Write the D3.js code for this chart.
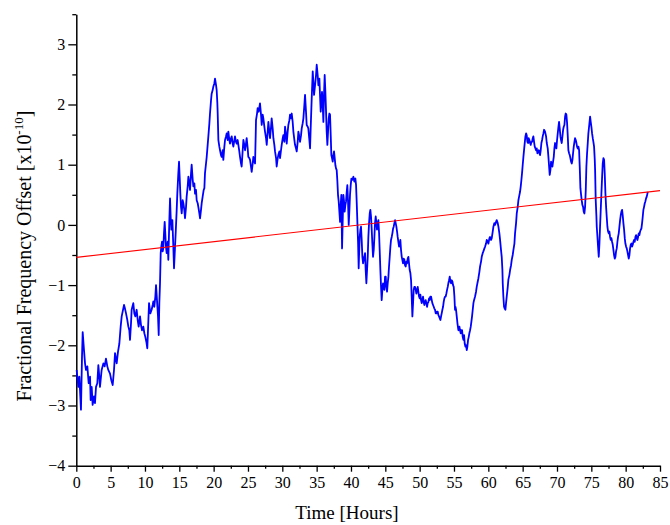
<!DOCTYPE html>
<html>
<head>
<meta charset="utf-8">
<script src="https://cdn.jsdelivr.net/npm/d3@7/dist/d3.min.js"></script>
<style>
  html, body { margin: 0; padding: 0; background: #fff; }
  svg { display: block; }
  .tick text { font-family: "Liberation Serif", "Times New Roman", serif; }
</style>
</head>
<body>
<div id="chart"></div>
<script>
// Measured fractional frequency offset (units of 1e-10) versus elapsed time in hours
const hours = [
  0.05,0.30,0.44,0.54,0.68,0.83,0.93,1.12,1.27,1.41,1.61,1.80,2.00,2.09,2.24,2.38,2.58,2.72,2.87,3.06,
  3.21,3.35,3.45,3.69,3.94,4.13,4.32,4.52,4.66,4.91,5.10,5.30,5.49,5.64,5.88,6.07,6.27,6.46,6.61,6.75,
  6.95,7.09,7.24,7.43,7.58,7.72,7.82,7.97,8.06,8.30,8.45,8.60,8.79,8.94,9.08,9.28,9.42,9.57,9.76,9.91,
  10.05,10.20,10.34,10.44,10.59,10.78,10.97,11.12,11.22,11.36,11.51,11.61,11.75,11.90,12.00,12.09,12.19,12.29,12.38,12.48,
  12.58,12.67,12.77,12.87,13.06,13.16,13.31,13.40,13.55,13.65,13.74,13.84,13.99,14.13,14.23,14.38,14.47,14.62,14.71,14.86,
  14.96,15.05,15.15,15.25,15.35,15.49,15.59,15.73,15.83,15.98,16.07,16.22,16.32,16.46,16.56,16.71,16.80,16.95,17.05,17.19,
  17.29,17.43,17.53,17.68,17.77,17.92,18.02,18.16,18.26,18.40,18.55,18.65,18.74,18.89,18.99,19.13,19.23,19.38,19.47,19.62,
  19.71,19.86,19.96,20.10,20.20,20.35,20.44,20.54,20.59,20.69,20.83,20.93,21.07,21.17,21.32,21.41,21.56,21.66,21.80,21.90,
  22.05,22.14,22.29,22.38,22.53,22.63,22.77,22.87,23.02,23.11,23.26,23.36,23.50,23.60,23.74,23.84,23.99,24.08,24.23,24.33,
  24.47,24.57,24.71,24.81,24.96,25.05,25.20,25.30,25.44,25.54,25.69,25.78,25.93,26.03,26.12,26.17,26.32,26.41,26.56,26.75,
  26.90,27.00,27.14,27.24,27.39,27.48,27.63,27.73,27.87,27.97,28.11,28.21,28.36,28.45,28.60,28.70,28.84,28.94,29.09,29.18,
  29.33,29.42,29.57,29.67,29.81,29.91,30.06,30.15,30.30,30.40,30.54,30.64,30.78,30.88,31.03,31.12,31.27,31.37,31.51,31.61,
  31.76,31.85,32.00,32.10,32.24,32.34,32.48,32.58,32.73,32.82,32.97,33.07,33.21,33.31,33.45,33.55,33.70,33.79,33.94,34.04,
  34.13,34.28,34.43,34.52,34.62,34.77,34.91,35.01,35.15,35.25,35.40,35.49,35.59,35.69,35.78,35.88,35.98,36.07,36.17,36.27,
  36.37,36.46,36.56,36.66,36.76,36.85,36.95,37.05,37.14,37.24,37.34,37.43,37.53,37.63,37.73,37.82,37.92,38.02,38.11,38.21,
  38.31,38.41,38.50,38.60,38.70,38.79,38.89,38.99,39.08,39.18,39.28,39.38,39.47,39.57,39.67,39.76,39.86,39.96,40.06,40.20,
  40.35,40.49,40.64,40.74,40.83,40.93,41.03,41.12,41.17,41.27,41.37,41.46,41.56,41.66,41.76,41.85,41.95,42.05,42.14,42.24,
  42.34,42.44,42.53,42.63,42.73,42.82,42.92,43.02,43.11,43.21,43.31,43.41,43.50,43.60,43.70,43.79,43.89,43.99,44.09,44.18,
  44.28,44.38,44.47,44.57,44.67,44.77,44.86,44.96,45.06,45.15,45.25,45.35,45.45,45.54,45.64,45.74,45.83,45.93,46.03,46.13,
  46.22,46.32,46.42,46.51,46.61,46.71,46.80,46.90,47.00,47.10,47.19,47.29,47.39,47.48,47.58,47.68,47.78,47.87,47.97,48.07,
  48.16,48.26,48.36,48.45,48.55,48.65,48.75,48.84,48.94,49.04,49.13,49.23,49.33,49.43,49.52,49.62,49.72,49.81,49.91,50.01,
  50.11,50.20,50.30,50.40,50.49,50.59,50.69,50.78,50.88,50.98,51.08,51.17,51.27,51.37,51.46,51.56,51.66,51.76,51.85,51.95,
  52.05,52.14,52.24,52.34,52.44,52.53,52.63,52.73,52.82,52.92,53.02,53.12,53.21,53.31,53.41,53.50,53.60,53.70,53.79,53.89,
  53.99,54.09,54.18,54.28,54.38,54.47,54.57,54.67,54.77,54.86,54.96,55.06,55.15,55.21,55.30,55.40,55.50,55.64,55.79,55.88,
  55.98,56.08,56.18,56.27,56.37,56.47,56.56,56.66,56.76,56.86,56.95,57.05,57.15,57.24,57.34,57.44,57.53,57.63,57.73,57.83,
  57.92,58.07,58.21,58.31,58.46,58.55,58.70,58.80,58.94,59.04,59.18,59.28,59.43,59.53,59.67,59.77,59.91,60.01,60.16,60.25,
  60.40,60.50,60.64,60.74,60.88,60.98,61.13,61.22,61.37,61.47,61.61,61.71,61.85,61.95,62.05,62.10,62.19,62.29,62.39,62.49,
  62.58,62.68,62.83,62.92,63.07,63.17,63.31,63.41,63.55,63.65,63.80,63.89,64.04,64.14,64.28,64.38,64.48,64.62,64.72,64.82,
  64.91,65.01,65.11,65.25,65.40,65.50,65.59,65.69,65.79,65.88,65.98,66.08,66.18,66.27,66.37,66.47,66.56,66.66,66.76,66.86,
  66.95,67.05,67.15,67.24,67.34,67.44,67.53,67.63,67.73,67.83,67.92,68.02,68.12,68.26,68.41,68.51,68.65,68.75,68.85,68.94,
  69.04,69.14,69.23,69.33,69.43,69.53,69.62,69.72,69.82,69.91,70.01,70.11,70.21,70.30,70.40,70.50,70.59,70.69,70.79,70.89,
  70.98,71.08,71.18,71.27,71.37,71.47,71.57,71.66,71.76,71.86,71.95,72.05,72.15,72.25,72.34,72.44,72.54,72.63,72.73,72.83,
  72.92,73.02,73.12,73.22,73.31,73.41,73.51,73.60,73.70,73.80,73.89,73.99,74.09,74.19,74.28,74.38,74.48,74.57,74.67,74.77,
  74.82,74.91,75.01,75.11,75.21,75.30,75.40,75.50,75.55,75.64,75.74,75.79,75.89,75.98,76.08,76.18,76.27,76.37,76.47,76.57,
  76.66,76.76,76.86,76.95,77.05,77.15,77.24,77.34,77.44,77.54,77.63,77.73,77.83,77.92,78.02,78.12,78.22,78.31,78.41,78.51,
  78.60,78.70,78.80,78.89,78.99,79.09,79.19,79.28,79.38,79.48,79.57,79.67,79.77,79.87,79.96,80.06,80.16,80.25,80.35,80.45,
  80.55,80.64,80.74,80.84,80.93,81.03,81.13,81.22,81.32,81.42,81.52,81.61,81.71,81.81,81.90,82.00,82.10,82.20,82.29,82.39,
  82.49,82.58,82.68,82.78,82.87,82.97,83.07,83.17,83.21
];
const offset = [
  -2.41,-2.69,-2.52,-2.74,-3.07,-2.19,-1.78,-2.08,-2.30,-2.41,-2.35,-2.63,-2.52,-2.91,-2.69,-2.99,-2.85,-2.96,-2.69,-2.63,
  -2.33,-2.52,-2.69,-2.41,-2.30,-2.35,-2.22,-2.35,-2.41,-2.47,-2.58,-2.66,-2.41,-2.13,-2.30,-2.11,-1.97,-1.69,-1.52,-1.44,
  -1.33,-1.39,-1.47,-1.58,-1.69,-1.75,-1.91,-1.63,-1.41,-1.30,-1.47,-1.52,-1.41,-1.58,-1.69,-1.52,-1.66,-1.75,-1.69,-1.80,
  -1.86,-1.94,-2.05,-1.75,-1.30,-1.47,-1.41,-1.33,-1.27,-1.36,-1.19,-1.00,-1.25,-1.52,-1.83,-1.30,-0.97,-0.47,-0.36,-0.28,
  -0.44,-0.39,-0.14,0.05,-0.36,-0.47,-0.28,-0.58,0.08,0.44,0.14,-0.08,0.08,-0.36,-0.72,-0.36,-0.14,0.25,0.52,0.86,
  1.05,0.80,0.52,0.30,0.19,0.41,0.36,0.25,0.11,0.30,0.47,0.64,0.80,0.69,0.58,0.86,1.00,0.75,0.64,0.69,
  0.52,0.58,0.41,0.36,0.30,0.19,0.11,0.25,0.36,0.47,0.58,0.61,0.86,1.02,1.13,1.33,1.47,1.69,1.85,2.07,
  2.18,2.24,2.30,2.35,2.43,2.32,2.24,2.02,1.85,1.41,1.30,1.24,1.16,1.13,1.24,1.08,1.30,1.41,1.47,1.52,
  1.41,1.55,1.41,1.35,1.44,1.47,1.35,1.30,1.41,1.47,1.38,1.35,1.41,1.33,1.22,1.13,1.02,0.97,1.24,1.41,
  1.33,1.24,1.35,1.44,1.27,1.13,1.11,1.08,0.97,0.88,1.02,1.13,1.05,1.02,1.47,1.74,1.85,1.94,1.88,2.02,
  1.83,1.66,1.83,1.77,1.63,1.55,1.44,1.33,1.55,1.71,1.55,1.44,1.63,1.77,1.60,1.44,1.33,1.22,1.11,0.97,
  1.11,1.16,1.22,1.11,1.24,1.33,1.44,1.49,1.38,1.63,1.49,1.35,1.55,1.66,1.74,1.83,1.77,1.85,1.71,1.55,
  1.41,1.33,1.27,1.22,1.38,1.55,1.47,1.38,1.49,1.60,1.69,1.77,1.99,2.16,1.88,1.66,1.63,1.60,1.41,1.27,
  1.60,2.10,2.55,2.38,2.16,2.32,2.49,2.66,2.49,2.32,2.43,2.16,1.88,2.05,2.21,1.99,1.71,2.16,2.49,2.21,
  1.88,1.55,1.33,1.55,1.77,1.85,1.83,1.49,1.16,1.11,1.05,1.16,1.22,1.11,0.99,0.94,0.91,0.72,0.50,0.39,
  0.22,0.05,0.33,0.50,-0.39,0.05,0.50,0.39,0.22,0.33,0.39,0.55,0.66,0.39,0.00,0.22,0.50,0.66,0.77,0.75,
  0.80,0.72,0.77,0.66,0.39,0.05,-0.28,-0.72,-0.53,-0.20,-0.08,-0.03,-0.25,-0.53,-0.64,-0.58,-0.53,-0.47,-0.75,-0.97,
  -0.75,-0.53,-0.20,0.03,0.19,0.25,0.14,-0.08,-0.31,-0.53,-0.42,-0.20,0.03,0.14,0.03,-0.08,0.03,0.08,-0.14,-0.42,
  -0.75,-1.03,-1.25,-1.08,-0.97,-1.03,-1.08,-0.86,-0.86,-1.03,-1.11,-0.97,-0.86,-0.69,-0.53,-0.36,-0.25,-0.20,-0.14,-0.06,
  -0.03,0.03,0.08,0.03,-0.03,-0.11,-0.20,-0.28,-0.36,-0.33,-0.25,-0.42,-0.53,-0.58,-0.64,-0.56,-0.58,-0.67,-0.69,-0.61,
  -0.64,-0.56,-0.53,-0.64,-0.75,-0.80,-0.92,-1.19,-1.52,-1.30,-1.08,-1.03,-1.03,-1.08,-1.14,-1.08,-1.03,-1.11,-1.19,-1.22,
  -1.16,-1.25,-1.30,-1.25,-1.19,-1.28,-1.33,-1.28,-1.25,-1.30,-1.36,-1.30,-1.28,-1.22,-1.25,-1.19,-1.19,-1.25,-1.30,-1.33,
  -1.36,-1.39,-1.41,-1.47,-1.47,-1.44,-1.44,-1.50,-1.52,-1.55,-1.58,-1.52,-1.47,-1.41,-1.36,-1.28,-1.22,-1.19,-1.19,-1.14,
  -1.08,-1.03,-0.97,-0.92,-0.86,-0.94,-0.97,-0.92,-0.94,-1.00,-1.03,-1.19,-1.41,-1.36,-1.41,-1.52,-1.63,-1.75,-1.69,-1.75,
  -1.80,-1.75,-1.75,-1.86,-1.91,-1.83,-1.97,-2.02,-2.00,-2.08,-2.02,-1.91,-1.86,-1.80,-1.75,-1.69,-1.61,-1.52,-1.41,-1.30,
  -1.25,-1.19,-1.11,-1.03,-0.94,-0.89,-0.78,-0.69,-0.61,-0.53,-0.47,-0.44,-0.39,-0.36,-0.31,-0.25,-0.28,-0.31,-0.22,-0.20,
  -0.25,-0.22,-0.11,-0.03,0.03,0.00,0.05,0.08,0.03,-0.03,-0.14,-0.25,-0.42,-0.53,-0.75,-0.97,-1.19,-1.36,-1.39,-1.41,
  -1.30,-1.19,-1.03,-0.91,-0.83,-0.75,-0.67,-0.58,-0.50,-0.42,-0.31,-0.14,0.03,0.19,0.30,0.41,0.47,0.55,0.64,0.75,
  0.86,1.00,1.13,1.30,1.47,1.52,1.49,1.38,1.36,1.44,1.41,1.36,1.33,1.38,1.38,1.44,1.47,1.38,1.30,1.27,
  1.24,1.27,1.19,1.22,1.24,1.19,1.16,1.24,1.36,1.41,1.47,1.52,1.58,1.55,1.47,1.36,1.27,1.13,0.97,0.83,
  0.91,1.05,1.02,0.97,1.05,1.13,1.27,1.36,1.30,1.27,1.41,1.52,1.63,1.71,1.60,1.47,1.41,1.36,1.47,1.58,
  1.63,1.66,1.80,1.85,1.83,1.69,1.47,1.24,1.19,1.16,1.11,1.05,1.02,1.08,1.19,1.30,1.38,1.44,1.41,1.36,
  1.30,1.27,1.30,1.24,0.97,0.61,0.50,0.41,0.33,0.30,0.22,0.19,0.30,0.58,0.97,1.19,1.36,1.52,1.63,1.74,
  1.80,1.71,1.63,1.52,1.44,1.38,1.30,1.08,0.91,0.41,0.14,-0.03,-0.20,-0.36,-0.53,-0.31,-0.03,0.25,0.53,0.80,
  1.02,1.11,1.08,0.86,0.53,0.30,0.14,-0.03,-0.11,-0.14,-0.11,-0.20,-0.25,-0.22,-0.28,-0.33,-0.42,-0.50,-0.56,-0.53,
  -0.44,-0.39,-0.28,-0.20,-0.14,-0.03,0.08,0.16,0.22,0.25,0.16,0.03,-0.08,-0.22,-0.31,-0.36,-0.39,-0.44,-0.50,-0.56,
  -0.50,-0.39,-0.33,-0.31,-0.36,-0.33,-0.28,-0.25,-0.28,-0.20,-0.17,-0.22,-0.25,-0.20,-0.14,-0.17,-0.11,-0.08,-0.06,0.03,
  0.14,0.25,0.30,0.36,0.39,0.44,0.47,0.52,0.55
];
// Linear drift fit across the full run
const fitHours = [0, 85];
const fitOffset = [-0.54, 0.57];
// Axis ticks
const xMajorTicks = [0,5,10,15,20,25,30,35,40,45,50,55,60,65,70,75,80,85];
const xMinorTicks = [2.5,7.5,12.5,17.5,22.5,27.5,32.5,37.5,42.5,47.5,52.5,57.5,62.5,67.5,72.5,77.5,82.5];
const yMajorTicks = [-4,-3,-2,-1,0,1,2,3];
const yMinorTicks = [-3.5,-2.5,-1.5,-0.5,0.5,1.5,2.5,3.5];

const W = 670, H = 525;
const svg = d3.select("#chart").append("svg").attr("width", W).attr("height", H);

const x = d3.scaleLinear().domain([0, 85]).range([76.3, 660]);
const y = d3.scaleLinear().domain([-4, 3.5]).range([465.7, 14.2]);

const serif = '"Liberation Serif", "Times New Roman", serif';

// Minor ticks first, then major axes with labels
svg.append("g").attr("transform", `translate(0,${y(-4)})`)
  .call(d3.axisBottom(x).tickValues(xMinorTicks).tickSize(3).tickFormat(""))
  .call(g => g.select(".domain").remove())
  .selectAll("line").attr("stroke", "#000").attr("stroke-width", 1.3);

svg.append("g").attr("transform", `translate(${x(0)},0)`)
  .call(d3.axisLeft(y).tickValues(yMinorTicks).tickSize(4).tickFormat(""))
  .call(g => g.select(".domain").remove())
  .selectAll("line").attr("stroke", "#000").attr("stroke-width", 1.3);

const xAxis = svg.append("g").attr("transform", `translate(0,${y(-4)})`)
  .call(d3.axisBottom(x).tickValues(xMajorTicks).tickSize(6).tickSizeOuter(0).tickPadding(5).tickFormat(d3.format("d")));
xAxis.select(".domain").attr("stroke", "#000").attr("stroke-width", 1.5);
xAxis.selectAll(".tick line").attr("stroke", "#000").attr("stroke-width", 1.3);
xAxis.selectAll(".tick text").attr("fill", "#000").style("font-size", "16px").style("font-family", serif);

const yAxis = svg.append("g").attr("transform", `translate(${x(0)},0)`)
  .call(d3.axisLeft(y).tickValues(yMajorTicks).tickSize(8).tickSizeOuter(0).tickPadding(3).tickFormat(d3.format("d")));
yAxis.select(".domain").attr("stroke", "#000").attr("stroke-width", 1.5);
yAxis.selectAll(".tick line").attr("stroke", "#000").attr("stroke-width", 1.3);
yAxis.selectAll(".tick text").attr("fill", "#000").style("font-size", "16px").style("font-family", serif);

// Measured offset trace
const series = hours.map((h, i) => ({ h, v: offset[i] }));
const line = d3.line().x(d => x(d.h)).y(d => y(d.v));
svg.append("path").datum(series)
  .attr("d", line)
  .attr("fill", "none")
  .attr("stroke", "#0000ff")
  .attr("stroke-width", 1.8)
  .attr("stroke-linejoin", "round");

// Drift fit
const fit = fitHours.map((h, i) => ({ h, v: fitOffset[i] }));
svg.append("path").datum(fit)
  .attr("d", line)
  .attr("fill", "none")
  .attr("stroke", "#ff0000")
  .attr("stroke-width", 1.1);

// Axis titles
svg.append("text")
  .attr("x", 347).attr("y", 519)
  .attr("text-anchor", "middle")
  .style("font-family", serif).style("font-size", "19px")
  .text("Time [Hours]");

const yt = svg.append("text")
  .attr("transform", "translate(31,256) rotate(-90)")
  .attr("text-anchor", "middle")
  .style("font-family", serif).style("font-size", "20px");
yt.append("tspan").text("Fractional Frequency Offset [x10");
yt.append("tspan").attr("dy", -8).style("font-size", "13px").text("-10");
yt.append("tspan").attr("dy", 8).text("]");
</script>
</body>
</html>
